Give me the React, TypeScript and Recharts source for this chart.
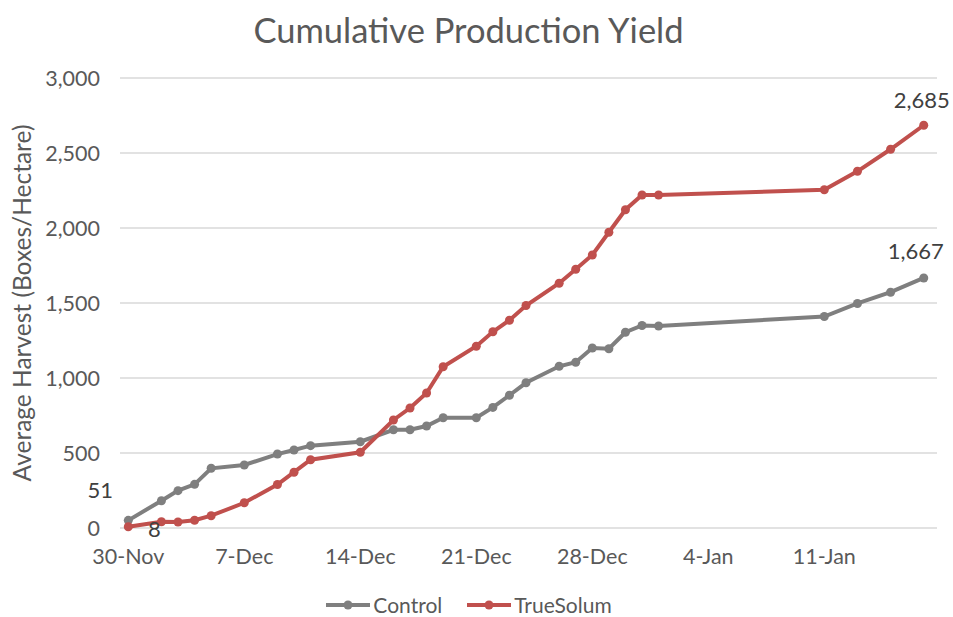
import React from 'react';
import { LineChart, Line, XAxis, YAxis, CartesianGrid, Legend, LabelList } from 'recharts';

// Days after 30-Nov
const days = [0, 2, 3, 4, 5, 7, 9, 10, 11, 14, 16, 17, 18, 19, 21, 22, 23, 24, 26, 27, 28, 29, 30, 31, 32, 42, 44, 46, 48];
const controlValues = [51, 182, 249, 291, 398, 420, 493, 520, 549, 575, 655, 655, 680, 735, 735, 804, 885, 968, 1078, 1105, 1200, 1195, 1305, 1350, 1347, 1410, 1497, 1572, 1667];
const trueSolumValues = [8, 42, 40, 52, 82, 168, 290, 372, 455, 505, 720, 800, 900, 1075, 1212, 1308, 1385, 1483, 1632, 1725, 1820, 1972, 2122, 2220, 2220, 2255, 2378, 2525, 2685];
const xTicks = [0, 7, 14, 21, 28, 35, 42];
const xTickLabels = ['30-Nov', '7-Dec', '14-Dec', '21-Dec', '28-Dec', '4-Jan', '11-Jan'];
const yTicks = [0, 500, 1000, 1500, 2000, 2500, 3000];

const data = days.map((d, i) => ({ day: d, Control: controlValues[i], TrueSolum: trueSolumValues[i] }));

const FONT = 'Lato, "Open Sans", sans-serif';
const TEXT = '#595959';
const GRAY = '#7f7f7f';
const RED = '#c0504d';
const last = days.length - 1;

const fmt = (v: number) => v.toLocaleString('en-US');

const makeLabel = (series: 'Control' | 'TrueSolum') => (props: any) => {
  const { x, y, value, index } = props;
  if (index !== 0 && index !== last) return null;
  let dx = 0;
  let dy = 0;
  if (series === 'Control') {
    if (index === 0) { dx = -28; dy = -30; } else { dx = -8; dy = -27; }
  } else {
    if (index === 0) { dx = 26; dy = 2; } else { dx = -2; dy = -25; }
  }
  return (
    <text x={x + dx} y={y + dy} dy="0.35em" textAnchor="middle" fill="#404040" fontSize={22} fontFamily={FONT}>
      {fmt(value)}
    </text>
  );
};

const LegendContent = () => {
  const items = [
    { name: 'Control', color: GRAY },
    { name: 'TrueSolum', color: RED },
  ];
  return (
    <div style={{ display: 'flex', justifyContent: 'center', gap: 24, fontFamily: FONT, fontSize: 21, color: TEXT, paddingLeft: 0 }}>
      {items.map((it) => (
        <div key={it.name} style={{ display: 'flex', alignItems: 'center' }}>
          <svg width={46} height={14} style={{ marginRight: 2 }}>
            <line x1={1} y1={7} x2={45} y2={7} stroke={it.color} strokeWidth={4} />
            <circle cx={23} cy={7} r={4.5} fill={it.color} />
          </svg>
          <span>{it.name}</span>
        </div>
      ))}
    </div>
  );
};

export default function App() {
  return (
    <div style={{ position: 'absolute', left: 0, top: 0, width: 953, height: 617, background: '#fff' }}>
      <div style={{ position: 'absolute', left: 0, width: 937, top: 9, textAlign: 'center', fontFamily: FONT, fontSize: 34.5, lineHeight: 1.2, color: TEXT }}>
        Cumulative Production Yield
      </div>
      <LineChart width={953} height={617} data={data} margin={{ top: 78, right: 16, left: 0, bottom: 49 }}>
        <CartesianGrid horizontal vertical={false} stroke="#d9d9d9" strokeWidth={1.5} />
        <XAxis
          type="number"
          dataKey="day"
          domain={[-0.5, 48.8]}
          ticks={xTicks}
          tickFormatter={(v: number) => xTickLabels[xTicks.indexOf(v)] ?? ''}
          axisLine={false}
          tickLine={false}
          tickSize={0}
          tickMargin={21}
          height={40}
          interval={0}
          tick={{ fill: TEXT, fontSize: 21.5, fontFamily: FONT }}
        />
        <YAxis
          type="number"
          domain={[0, 3000]}
          ticks={yTicks}
          tickFormatter={fmt}
          axisLine={false}
          tickLine={false}
          tickSize={0}
          tickMargin={20}
          width={120}
          tick={{ fill: TEXT, fontSize: 21.5, fontFamily: FONT }}
          label={{
            value: 'Average Harvest (Boxes/Hectare)',
            angle: -90,
            position: 'insideLeft',
            offset: 22,
            style: { textAnchor: 'middle', fill: TEXT, fontSize: 24.5, fontFamily: FONT },
          }}
        />
        <Legend
          layout="horizontal"
          verticalAlign="middle"
          align="center"
          wrapperStyle={{ top: 592, left: 0, width: 937 }}
          content={<LegendContent />}
        />
        <Line
          type="linear"
          dataKey="Control"
          stroke={GRAY}
          strokeWidth={4}
          dot={{ r: 4.5, fill: GRAY, stroke: 'none' }}
          activeDot={false}
          isAnimationActive={false}
        >
          <LabelList dataKey="Control" content={makeLabel('Control')} />
        </Line>
        <Line
          type="linear"
          dataKey="TrueSolum"
          stroke={RED}
          strokeWidth={4}
          dot={{ r: 4.5, fill: RED, stroke: 'none' }}
          activeDot={false}
          isAnimationActive={false}
        >
          <LabelList dataKey="TrueSolum" content={makeLabel('TrueSolum')} />
        </Line>
      </LineChart>
    </div>
  );
}
